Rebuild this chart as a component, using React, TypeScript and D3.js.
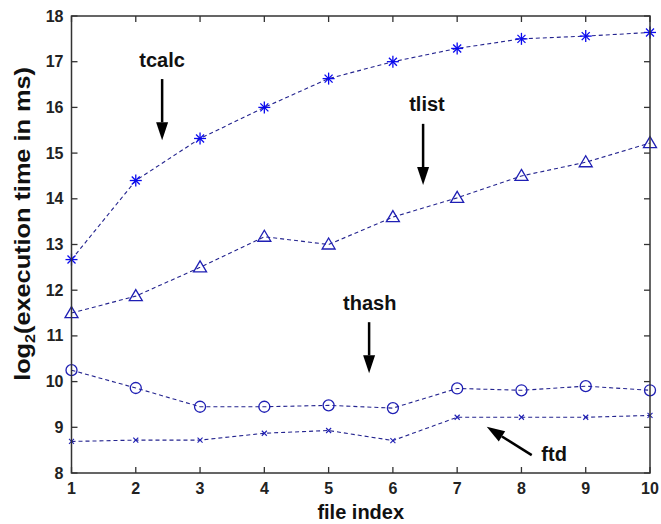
import React from 'react';
import * as d3 from 'd3';

// file index on x, log2 of execution time on y
const fileIndex = [1, 2, 3, 4, 5, 6, 7, 8, 9, 10];
const tcalc = [12.67, 14.4, 15.32, 16.0, 16.63, 17.0, 17.29, 17.5, 17.56, 17.64];
const tlist = [11.5, 11.87, 12.5, 13.17, 13.0, 13.6, 14.02, 14.5, 14.8, 15.22];
const thash = [10.25, 9.86, 9.45, 9.45, 9.48, 9.42, 9.85, 9.81, 9.9, 9.81];
const ftd = [8.69, 8.72, 8.72, 8.87, 8.93, 8.71, 9.22, 9.22, 9.22, 9.26];

const xTicks = [1, 2, 3, 4, 5, 6, 7, 8, 9, 10];
const yTicks = [8, 9, 10, 11, 12, 13, 14, 15, 16, 17, 18];

// annotation text + arrows, in data units
const labels = [
  { text: 'tcalc', x: 2.41, y: 16.88, anchor: 'middle', from: [2.41, 16.62], to: [2.41, 15.28] },
  { text: 'tlist', x: 6.53, y: 15.93, anchor: 'middle', from: [6.47, 15.64], to: [6.47, 14.3] },
  { text: 'thash', x: 5.64, y: 11.56, anchor: 'middle', from: [5.63, 11.3], to: [5.63, 10.18] },
  { text: 'ftd', x: 8.31, y: 8.26, anchor: 'start', from: [8.16, 8.39], to: [7.46, 9.01] },
];

const W = 661;
const H = 524;
const margin = { top: 16, right: 11, bottom: 51, left: 71.5 };
const lineColor = '#24248f';
const markColor = '#1f1fb4';
const font = 'Arial, "Liberation Sans", sans-serif';

export default function App() {
  const x = d3.scaleLinear().domain([1, 10]).range([margin.left, W - margin.right]);
  const y = d3.scaleLinear().domain([8, 18]).range([H - margin.bottom, margin.top]);
  const x0 = x(1), x1 = x(10), y0 = y(8), y1 = y(18);

  const line = d3.line<number>().x((d, i) => x(fileIndex[i])).y(d => y(d));

  const star = (cx: number, cy: number, k: number) => (
    <g key={k} stroke="#0a0aee" strokeWidth={1.3}>
      <line x1={cx - 6} y1={cy} x2={cx + 6} y2={cy} />
      <line x1={cx} y1={cy - 6} x2={cx} y2={cy + 6} />
      <line x1={cx - 4} y1={cy - 4} x2={cx + 4} y2={cy + 4} />
      <line x1={cx - 4} y1={cy + 4} x2={cx + 4} y2={cy - 4} />
    </g>
  );
  const tri = (cx: number, cy: number, k: number) => (
    <path key={k} d={`M${cx},${cy - 6.5}L${cx + 6.5},${cy + 4.5}L${cx - 6.5},${cy + 4.5}Z`}
      fill="none" stroke={markColor} strokeWidth={1.3} />
  );
  const circ = (cx: number, cy: number, k: number) => (
    <circle key={k} cx={cx} cy={cy} r={5.5} fill="none" stroke={markColor} strokeWidth={1.3} />
  );
  const cross = (cx: number, cy: number, k: number) => (
    <g key={k} stroke={markColor} strokeWidth={1.1}>
      <line x1={cx - 2.5} y1={cy - 2.5} x2={cx + 2.5} y2={cy + 2.5} />
      <line x1={cx - 2.5} y1={cy + 2.5} x2={cx + 2.5} y2={cy - 2.5} />
    </g>
  );

  const series = [
    { vals: tcalc, mark: star },
    { vals: tlist, mark: tri },
    { vals: thash, mark: circ },
    { vals: ftd, mark: cross },
  ];

  const arrow = (from: number[], to: number[], k: number) => {
    const ax = x(from[0]), ay = y(from[1]), bx = x(to[0]), by = y(to[1]);
    const len = Math.hypot(bx - ax, by - ay);
    const ux = (bx - ax) / len, uy = (by - ay) / len;
    const hl = 18, hw = 6;
    const baseX = bx - ux * hl, baseY = by - uy * hl;
    return (
      <g key={k}>
        <line x1={ax} y1={ay} x2={baseX} y2={baseY} stroke="#000" strokeWidth={2.5} />
        <path
          d={`M${bx},${by}L${baseX - uy * hw},${baseY + ux * hw}L${baseX + uy * hw},${baseY - ux * hw}Z`}
          fill="#000" />
      </g>
    );
  };

  return (
    <svg width={W} height={H} style={{ position: 'absolute', left: 0, top: 0, background: '#fff' }}
      fontFamily={font}>
      {series.map((s, si) => (
        <g key={si}>
          <path d={line(s.vals) || ''} fill="none" stroke={lineColor} strokeWidth={1.1} strokeDasharray="4,3" />
          {s.vals.map((v, i) => s.mark(x(fileIndex[i]), y(v), i))}
        </g>
      ))}

      {/* box + inward ticks on all sides */}
      <rect x={x0} y={y1} width={x1 - x0} height={y0 - y1} fill="none" stroke="#333" strokeWidth={1.5} />
      {xTicks.map(t => (
        <g key={'x' + t} stroke="#333" strokeWidth={1.3}>
          <line x1={x(t)} x2={x(t)} y1={y0} y2={y0 - 6} />
          <line x1={x(t)} x2={x(t)} y1={y1} y2={y1 + 6} />
        </g>
      ))}
      {yTicks.map(t => (
        <g key={'y' + t} stroke="#333" strokeWidth={1.3}>
          <line x1={x0} x2={x0 + 6} y1={y(t)} y2={y(t)} />
          <line x1={x1} x2={x1 - 6} y1={y(t)} y2={y(t)} />
        </g>
      ))}
      {xTicks.map(t => (
        <text key={'xl' + t} x={x(t)} y={y0 + 21} textAnchor="middle" fontSize={16} fontWeight="bold" fill="#222">
          {t}
        </text>
      ))}
      {yTicks.map(t => (
        <text key={'yl' + t} x={x0 - 8} y={y(t) + 5.5} textAnchor="end" fontSize={16} fontWeight="bold" fill="#222">
          {t}
        </text>
      ))}

      <text x={(x0 + x1) / 2} y={H - 5} textAnchor="middle" fontSize={20} fontWeight="bold" fill="#111">
        file index
      </text>
      {/* the source image is stretched vertically, so the rotated label runs longer */}
      <text transform={`translate(30,224) rotate(-90) scale(1.15,1)`} textAnchor="middle" fontSize={22}
        fontWeight="bold" fill="#111">
        log<tspan fontSize={14} dy={5}>2</tspan><tspan dy={-5}>(execution time in ms)</tspan>
      </text>

      {labels.map((l, i) => (
        <g key={'a' + i}>
          <text x={x(l.x)} y={y(l.y)} textAnchor={l.anchor} fontSize={20} fontWeight="bold" fill="#111">
            {l.text}
          </text>
          {arrow(l.from, l.to, i)}
        </g>
      ))}
    </svg>
  );
}
